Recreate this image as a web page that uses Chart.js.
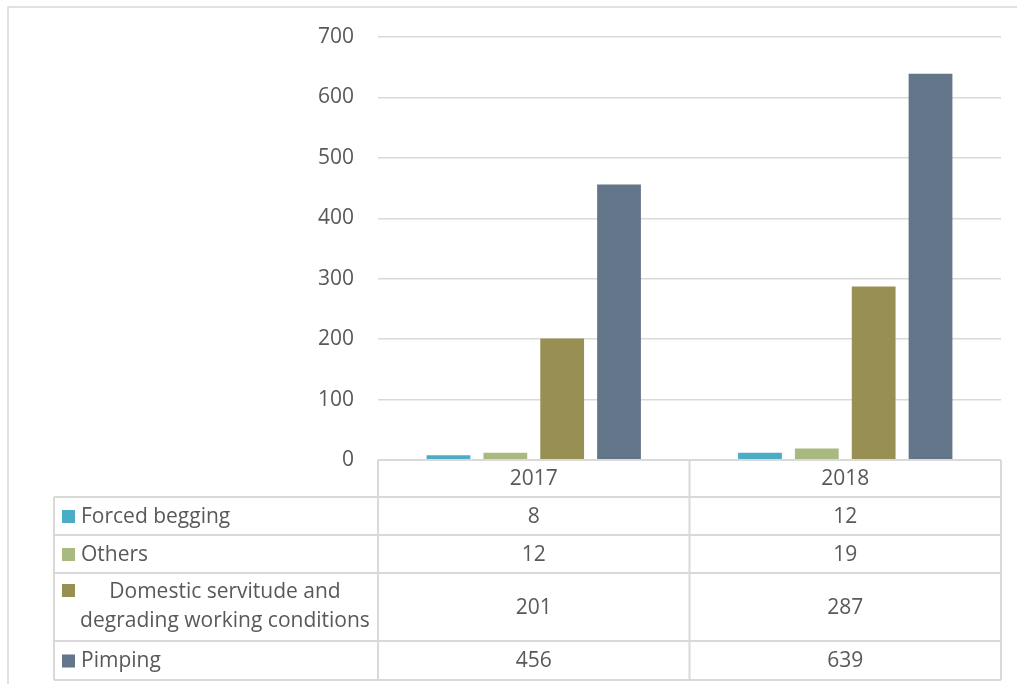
<!DOCTYPE html>
<html><head><meta charset="utf-8">
<script src="https://cdn.jsdelivr.net/npm/chart.js@4.4.1/dist/chart.umd.min.js"></script>
<style>html,body{margin:0;padding:0;background:#fff;}#wrap{width:1017px;height:684px;position:relative;}</style>
</head><body><div id="wrap"><canvas id="c" width="1017" height="684"></canvas></div>
<script>
const categories = ['2017', '2018'];
const seriesNames = ['Forced begging', 'Others', 'Domestic servitude and degrading working conditions', 'Pimping'];
const forcedBegging = [8, 12];
const others = [12, 19];
const domestic = [201, 287];
const pimping = [456, 639];
const colors = ['#4BACC6', '#A8BA80', '#988F53', '#637589'];
const yTicks = [0, 100, 200, 300, 400, 500, 600, 700];

const FONT = '"Open Sans", Lato, sans-serif';
const FSIZE = 21;
const TXT = '#595959';
const LINE = '#D9D9D9';
const seriesValues = [forcedBegging, others, domestic, pimping];

const tablePlugin = {
  id: 'tablePlugin',
  beforeDraw(chart) {
    const ctx = chart.ctx;
    ctx.save();
    ctx.strokeStyle = LINE; ctx.lineWidth = 1.5;
    ctx.beginPath();
    ctx.moveTo(8, 700); ctx.lineTo(8, 7); ctx.lineTo(1030, 7);
    ctx.stroke();
    ctx.restore();
  },
  afterDraw(chart) {
    const ctx = chart.ctx;
    const x = chart.scales.x;
    const area = chart.chartArea;
    const half = (x.getPixelForValue(1) - x.getPixelForValue(0)) / 2;
    const colEdges = [x.getPixelForValue(0) - half, x.getPixelForValue(0) + half, x.getPixelForValue(1) + half];
    const left = 54;
    const rows = [area.bottom, 497, 535, 573, 641, 680];
    ctx.save();
    ctx.strokeStyle = LINE; ctx.lineWidth = 2;
    ctx.beginPath();
    ctx.moveTo(colEdges[0], rows[0]); ctx.lineTo(colEdges[2], rows[0]);
    for (let i = 1; i < rows.length; i++) { ctx.moveTo(left, rows[i]); ctx.lineTo(colEdges[2], rows[i]); }
    ctx.moveTo(left, rows[1]); ctx.lineTo(left, rows[5]);
    colEdges.forEach(e => { ctx.moveTo(e, rows[0]); ctx.lineTo(e, rows[5]); });
    ctx.stroke();
    ctx.fillStyle = TXT;
    ctx.font = FSIZE + 'px ' + FONT;
    ctx.textAlign = 'center'; ctx.textBaseline = 'middle';
    categories.forEach((c, i) => ctx.fillText(c, x.getPixelForValue(i), (rows[0] + rows[1]) / 2 + 1));
    seriesNames.forEach((name, r) => {
      const top = rows[r + 1], bot = rows[r + 2];
      const cy = (top + bot) / 2 + 1;
      seriesValues[r].forEach((v, i) => { ctx.fillStyle = TXT; ctx.textAlign = 'center'; ctx.fillText(String(v), x.getPixelForValue(i), cy); });
      ctx.fillStyle = colors[r];
      if (r === 2) {
        ctx.fillRect(62, 584, 13, 13);
        ctx.fillStyle = TXT; ctx.textAlign = 'center';
        ctx.fillText('Domestic servitude and', 225, 592);
        ctx.fillText('degrading working conditions', 225, 621);
      } else {
        ctx.fillRect(62, cy - 7, 13, 13);
        ctx.fillStyle = TXT; ctx.textAlign = 'left';
        ctx.fillText(name, 81, cy);
      }
    });
    ctx.restore();
  }
};

new Chart(document.getElementById('c'), {
  type: 'bar',
  data: {
    labels: categories,
    datasets: seriesNames.map((n, i) => ({
      label: n, data: seriesValues[i], backgroundColor: colors[i],
      categoryPercentage: 0.73, barPercentage: 0.77
    }))
  },
  options: {
    responsive: false, animation: false,
    layout: { padding: { left: 0, right: 16, top: 37, bottom: 224 } },
    plugins: { legend: { display: false }, tooltip: { enabled: false } },
    scales: {
      x: { display: false },
      y: {
        min: 0, max: 700,
        afterFit(s) { s.width = 378; },
        afterBuildTicks(s) { s.ticks = yTicks.map(v => ({ value: v })); },
        border: { display: false },
        grid: { color: LINE, lineWidth: 1.5, drawTicks: true, tickLength: 12, tickColor: 'rgba(0,0,0,0)' },
        ticks: { color: TXT, font: { family: FONT, size: FSIZE }, padding: 12 }
      }
    }
  },
  plugins: [tablePlugin]
});
</script></body></html>
